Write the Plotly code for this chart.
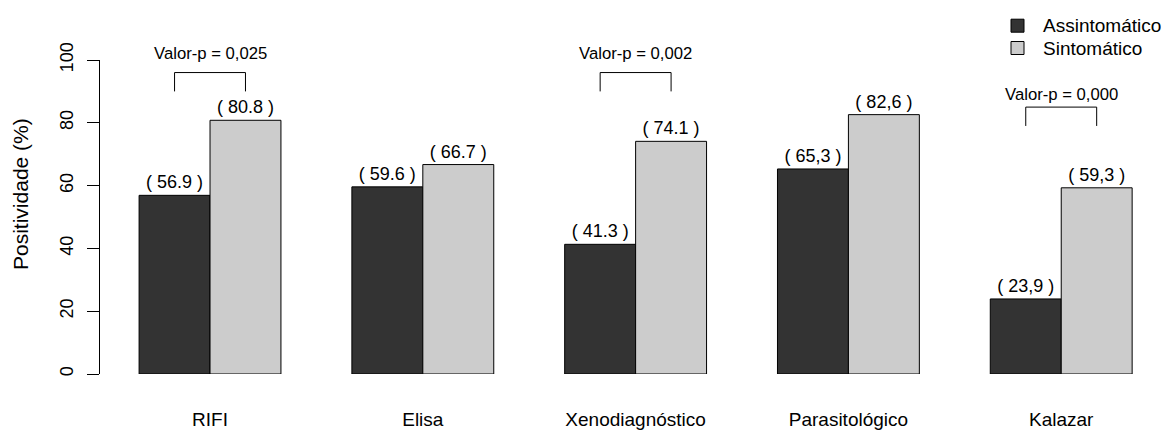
import plotly.graph_objects as go

# Data
categories = ["RIFI", "Elisa", "Xenodiagnóstico", "Parasitológico", "Kalazar"]
assintomatico = [56.9, 59.6, 41.3, 65.3, 23.9]
sintomatico = [80.8, 66.7, 74.1, 82.6, 59.3]
decimal_sep = [".", ".", ".", ",", ","]

series_names = ["Assintomático", "Sintomático"]
series_colors = ["#333333", "#cccccc"]

# p-value brackets (None where no comparison is shown)
pvalue_labels = ["Valor-p = 0,025", None, "Valor-p = 0,002", None, "Valor-p = 0,000"]
bracket_low = [90, None, 90, None, 79]
bracket_high = [96, None, 96, None, 85]
pvalue_text_y = [102, None, 102, None, 89]

y_ticks = [0, 20, 40, 60, 80, 100]

FONT = "Liberation Sans, Arial, sans-serif"
BARGAP = 1 / 3
bar_w = (1 - BARGAP) / 2  # width of one bar in category units

# plot-area geometry in pixels (used to place the legend box in paper units)
W, H = 1164, 432
ML, MR, MT, MB = 100, 0, 60, 58
PW, PH = W - ML - MR, H - MT - MB


def px_x(p):
    return (p - ML) / PW


def px_y(p):
    return (H - MB - p) / PH


def fmt(v, sep):
    return f"( {v:.1f} )".replace(".", sep)


fig = go.Figure()
for name, color, vals in zip(series_names, series_colors, [assintomatico, sintomatico]):
    fig.add_trace(go.Bar(
        x=categories, y=vals, name=name,
        marker=dict(color=color, line=dict(color="black", width=1)),
        text=[fmt(v, s) for v, s in zip(vals, decimal_sep)],
        textposition="outside", constraintext="none", cliponaxis=False,
        textfont=dict(family=FONT, size=18, color="black"),
    ))

shapes = []
annotations = []
for i, lab in enumerate(pvalue_labels):
    if lab is None:
        continue
    x0 = i - bar_w / 2
    x1 = i + bar_w / 2
    lo, hi = bracket_low[i], bracket_high[i]
    line = dict(color="black", width=1)
    shapes += [
        dict(type="line", xref="x", yref="y", x0=x0, x1=x0, y0=lo, y1=hi, line=line),
        dict(type="line", xref="x", yref="y", x0=x0, x1=x1, y0=hi, y1=hi, line=line),
        dict(type="line", xref="x", yref="y", x0=x1, x1=x1, y0=hi, y1=lo, line=line),
    ]
    # y axis spans 0..100 over the full plot height, so value/100 is the paper position
    annotations.append(dict(
        x=i, y=pvalue_text_y[i] / 100, xref="x", yref="paper", text=lab, showarrow=False,
        font=dict(family=FONT, size=16.7, color="black"),
        xanchor="center", yanchor="middle",
    ))

# legend: filled squares with labels, top right
for k, (name, color) in enumerate(zip(series_names, series_colors)):
    cy = 25.7 + 22.3 * k
    shapes.append(dict(
        type="rect", xref="paper", yref="paper",
        x0=px_x(1011), x1=px_x(1024), y0=px_y(cy - 6.5), y1=px_y(cy + 6.5),
        fillcolor=color, line=dict(color="black", width=1),
    ))
    annotations.append(dict(
        x=px_x(1041), y=px_y(cy), xref="paper", yref="paper", text=name,
        showarrow=False, xanchor="left", yanchor="middle",
        font=dict(family=FONT, size=19, color="black"),
    ))

annotations.append(dict(
    x=px_x(20), y=px_y(194), xref="paper", yref="paper", text="Positividade (%)",
    textangle=-90, showarrow=False, xanchor="center", yanchor="middle",
    font=dict(family=FONT, size=21, color="black"),
))

fig.update_layout(
    width=W, height=H,
    margin=dict(l=ML, r=MR, t=MT, b=MB),
    paper_bgcolor="white", plot_bgcolor="white",
    barmode="group", bargap=BARGAP, bargroupgap=0,
    font=dict(family=FONT, color="black"),
    showlegend=False,
    xaxis=dict(
        type="category", range=[-0.517, 4.483], automargin=False,
        showline=False, ticks="", showgrid=False, zeroline=False,
        tickfont=dict(family=FONT, size=19, color="black"),
        ticklabelstandoff=32,
    ),
    yaxis=dict(
        range=[0, 100], tickvals=y_ticks, ticktext=[str(t) for t in y_ticks],
        automargin=False,
        showline=True, linecolor="black", linewidth=1,
        ticks="outside", ticklen=12, tickwidth=1, tickcolor="black",
        tickangle=-90, showgrid=False, zeroline=False,
        tickfont=dict(family=FONT, size=18, color="black"),
        ticklabelstandoff=7,
    ),
    shapes=shapes, annotations=annotations,
)

fig.write_html("out.html")
